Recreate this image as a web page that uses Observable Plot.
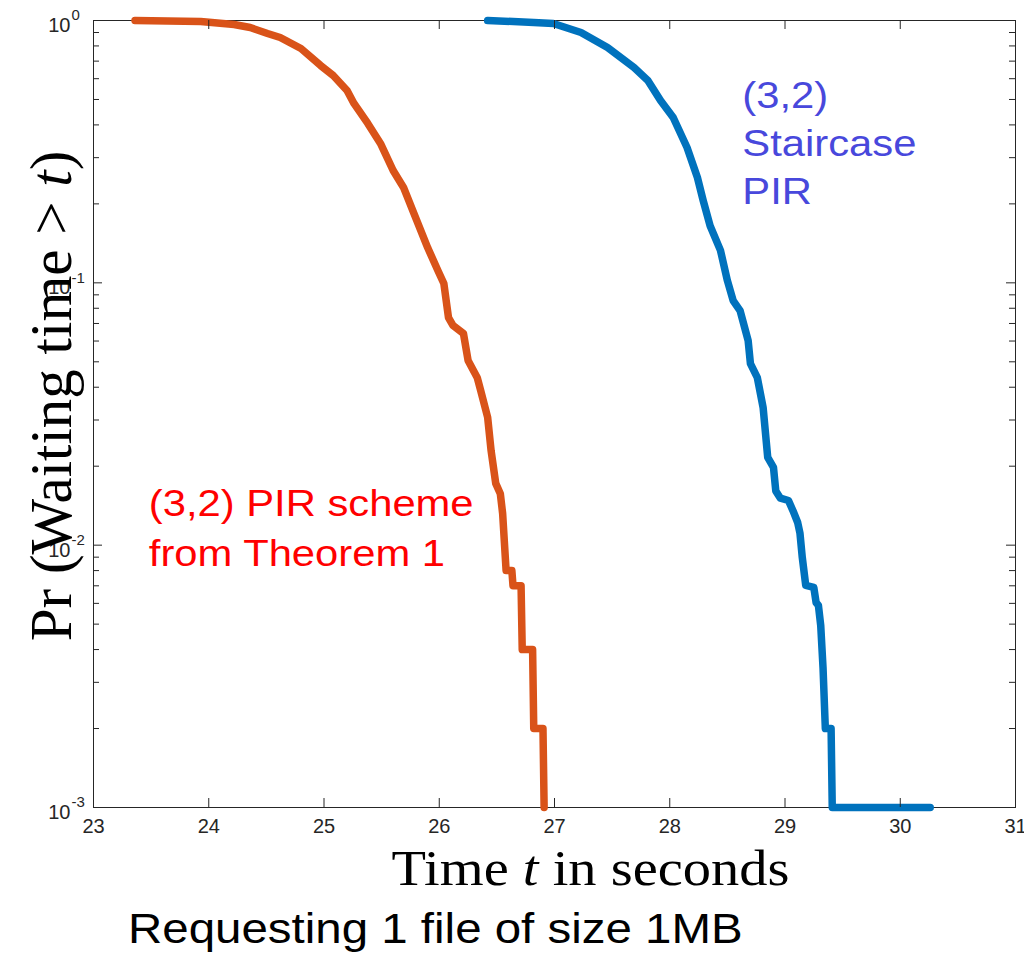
<!DOCTYPE html>
<html><head><meta charset="utf-8">
<script src="https://cdn.jsdelivr.net/npm/d3@7"></script>
<script src="https://cdn.jsdelivr.net/npm/@observablehq/plot@0.6"></script>
<style>
body{margin:0;background:#fff;}
#wrap{position:relative;width:1024px;height:955px;}
#caption{position:absolute;left:128px;top:908px;font-family:"Liberation Sans",Arial,sans-serif;font-size:42px;line-height:1;transform:scaleX(1.13);transform-origin:0 0;white-space:nowrap;color:#000;}
</style></head><body>
<div id="wrap"><div id="chart"></div><div id="caption"></div></div>
<script>
// ---- data ----
const orangeT = [23.36, 23.93, 24.22, 24.36, 24.51, 24.62, 24.80, 24.97, 25.08, 25.20, 25.26, 25.38, 25.49, 25.60, 25.69, 25.78, 25.90, 25.99, 26.04, 26.08, 26.12, 26.21, 26.25, 26.33, 26.36, 26.42, 26.45, 26.49, 26.53, 26.55, 26.58, 26.63, 26.64, 26.71, 26.72, 26.81, 26.82, 26.90, 26.91];
const orangeP = [1.0, 0.991, 0.965, 0.94, 0.892, 0.861, 0.782, 0.674, 0.617, 0.541, 0.483, 0.405, 0.34, 0.268, 0.231, 0.184, 0.136, 0.111, 0.0994, 0.0737, 0.0687, 0.0641, 0.0506, 0.0435, 0.0388, 0.0307, 0.0229, 0.0172, 0.0157, 0.0132, 0.008, 0.008, 0.007, 0.007, 0.004, 0.004, 0.002, 0.002, 0.001];
const blueT = [26.42, 26.82, 26.99, 27.23, 27.46, 27.69, 27.81, 27.92, 28.03, 28.15, 28.24, 28.29, 28.35, 28.44, 28.50, 28.55, 28.61, 28.68, 28.70, 28.76, 28.81, 28.85, 28.90, 28.92, 28.96, 29.03, 29.07, 29.11, 29.13, 29.15, 29.18, 29.25, 29.27, 29.29, 29.31, 29.33, 29.35, 29.40, 29.41, 30.26];
const blueP = [1.0, 0.983, 0.974, 0.90, 0.789, 0.662, 0.591, 0.495, 0.427, 0.328, 0.252, 0.206, 0.165, 0.133, 0.102, 0.0856, 0.0784, 0.0603, 0.0492, 0.0435, 0.0335, 0.0216, 0.0198, 0.0161, 0.0151, 0.0148, 0.0135, 0.0122, 0.0111, 0.00897, 0.00702, 0.0069, 0.00604, 0.00589, 0.00494, 0.00341, 0.002, 0.002, 0.001, 0.001];

const xTicks = [23, 24, 25, 26, 27, 28, 29, 30, 31];
const yMajor = [1, 0.1, 0.01, 0.001];
const yTickBase = ["10", "10", "10", "10"];
const yTickExp = ["0", "-1", "-2", "-3"];
const yMinor = [0.002,0.003,0.004,0.005,0.006,0.007,0.008,0.009,0.02,0.03,0.04,0.05,0.06,0.07,0.08,0.09,0.2,0.3,0.4,0.5,0.6,0.7,0.8,0.9];

const xLabelParts = ["Time ", "t", " in seconds"];
const yLabelParts = ["Pr (Waiting time > ", "t", ")"];
const redNote = {t: 23.48, p: 0.0119, text: "(3,2) PIR scheme\nfrom Theorem 1"};
const blueNote = {t: 28.63, p: 0.349, text: "(3,2)\nStaircase\nPIR"};
const captionText = "Requesting 1 file of size 1MB";

// ---- build ----
const orange = orangeT.map((t, i) => ({t, p: orangeP[i]}));
const blue = blueT.map((t, i) => ({t, p: blueP[i]}));
const xLabel = xLabelParts.join("");
const yLabel = yLabelParts.join("");

const W = 1024, H = 900, mL = 93, mR = 9, mT = 20, mB = H - 807;
const pw = W - mL - mR, ph = H - mT - mB;
const ax = "#262626";
const serif = "'Liberation Serif', 'Times New Roman', serif";

const chart = Plot.plot({
  width: W, height: H,
  marginLeft: mL, marginRight: mR, marginTop: mT, marginBottom: mB,
  x: {domain: [23, 31], axis: null},
  y: {type: "log", domain: [0.001, 1], axis: null},
  style: {fontFamily: "'Liberation Sans', Arial, sans-serif", background: "white", overflow: "visible"},
  marks: [
    Plot.frame({stroke: ax, strokeWidth: 1}),
    Plot.line(orange, {x: "t", y: "p", stroke: "#D95319", strokeWidth: 7.5, strokeLinejoin: "round"}),
    Plot.line(blue, {x: "t", y: "p", stroke: "#0072BD", strokeWidth: 7.5, strokeLinejoin: "round"}),
    Plot.tickX(xTicks, {x: d => d, stroke: ax, insetTop: ph - 9}),
    Plot.tickX(xTicks, {x: d => d, stroke: ax, insetBottom: ph - 9}),
    Plot.tickY(yMajor, {y: d => d, stroke: ax, insetRight: pw - 9}),
    Plot.tickY(yMajor, {y: d => d, stroke: ax, insetLeft: pw - 9}),
    Plot.tickY(yMinor, {y: d => d, stroke: ax, insetRight: pw - 6}),
    Plot.tickY(yMinor, {y: d => d, stroke: ax, insetLeft: pw - 6}),
    Plot.text(xTicks, {x: d => d, text: d => String(d), frameAnchor: "bottom", dy: 19, lineAnchor: "middle", fontSize: 20, fill: ax}),
    Plot.text(yMajor, {y: d => d, text: (d, i) => yTickBase[i], frameAnchor: "left", textAnchor: "end", dx: -23, dy: 5, lineAnchor: "middle", fontSize: 20, fill: ax}),
    Plot.text(yMajor, {y: d => d, text: (d, i) => yTickExp[i], frameAnchor: "left", textAnchor: "start", dx: -22, dy: -5, lineAnchor: "middle", fontSize: 15, fill: ax}),
    Plot.text([xLabel], {text: d => d, frameAnchor: "bottom", textAnchor: "middle", dx: 36, dy: 61, lineAnchor: "middle", fontSize: 50, fontFamily: serif, fill: "black"}),
    Plot.text([yLabel], {text: d => d, frameAnchor: "left", textAnchor: "middle", rotate: -90, dx: -41, dy: -18, lineAnchor: "middle", fontSize: 59, fontFamily: serif, fill: "black"}),
    Plot.text([redNote], {x: "t", y: "p", text: "text", textAnchor: "start", lineAnchor: "middle", lineHeight: 1.38, fontSize: 36, fill: "#FF0000"}),
    Plot.text([blueNote], {x: "t", y: "p", text: "text", textAnchor: "start", lineAnchor: "middle", lineHeight: 1.33, fontSize: 36, fill: "#4848DC"})
  ]
});

function rich(el, parts) {
  el.textContent = "";
  parts.forEach((s, i) => {
    const ts = document.createElementNS("http://www.w3.org/2000/svg", "tspan");
    ts.textContent = s;
    if (i === 1) ts.setAttribute("font-style", "italic");
    el.appendChild(ts);
  });
}
function stretch(el, k) {
  const tr = el.getAttribute("transform") || "";
  el.setAttribute("transform", tr + ` scale(${k},1)`);
}
d3.select(chart).selectAll("text").each(function () {
  const s = this.textContent;
  if (s === xLabel) { rich(this, xLabelParts); stretch(this, 1.13); }
  else if (s === yLabel) { rich(this, yLabelParts); }
  else if (s.startsWith("(3,2)")) { stretch(this, 1.16); }
});

document.getElementById("chart").appendChild(chart);
document.getElementById("caption").textContent = captionText;
</script>
</body></html>
